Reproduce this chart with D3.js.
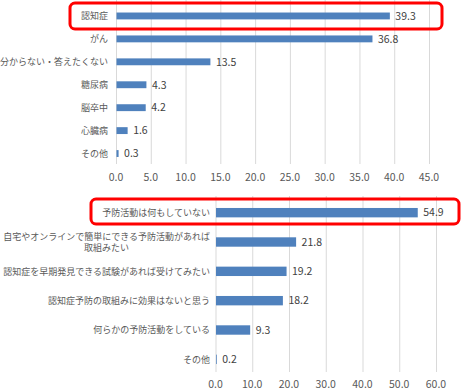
<!DOCTYPE html>
<html>
<head>
<meta charset="utf-8">
<script src="https://cdn.jsdelivr.net/npm/d3@7/dist/d3.min.js"></script>
<style>
  body { margin: 0; background: #fff; }
  svg { display: block; }
  text { font-family: "Noto Sans CJK JP", "Noto Sans", sans-serif; }
</style>
</head>
<body>
<svg id="chart" width="463" height="390"></svg>
<script>
// top chart: diseases
const topCategories = ['認知症', 'がん', '分からない・答えたくない', '糖尿病', '脳卒中', '心臓病', 'その他'];
const topValues = [39.3, 36.8, 13.5, 4.3, 4.2, 1.6, 0.3];
const topTicks = [0, 5, 10, 15, 20, 25, 30, 35, 40, 45];

// bottom chart: prevention
const bottomCategories = [
    ['予防活動は何もしていない'],
    ['自宅やオンラインで簡単にできる予防活動があれば', '取組みたい'],
    ['認知症を早期発見できる試験があれば受けてみたい'],
    ['認知症予防の取組みに効果はないと思う'],
    ['何らかの予防活動をしている'],
    ['その他']
];
const bottomValues = [54.9, 21.8, 19.2, 18.2, 9.3, 0.2];
const bottomTicks = [0, 10, 20, 30, 40, 50, 60];

const svg = d3.select('#chart');
const barColor = '#4f81bd';
const gridColor = '#d9d9d9';

function drawBars(opts) {
    const g = svg.append('g');

    const x = d3.scaleLinear()
        .domain([0, opts.max])
        .range([opts.left, opts.right]);

    const y = d3.scaleBand()
        .domain(d3.range(opts.values.length))
        .range([opts.top, opts.bottom])
        .paddingInner(opts.padding)
        .paddingOuter(opts.padding / 2);

    // gridlines
    g.selectAll('.grid')
        .data(opts.ticks)
        .join('line')
        .attr('x1', d => x(d) + 0.5)
        .attr('x2', d => x(d) + 0.5)
        .attr('y1', opts.gridTop)
        .attr('y2', opts.gridBottom)
        .attr('stroke', gridColor)
        .attr('stroke-width', 1);

    // tick labels
    g.selectAll('.tick')
        .data(opts.ticks)
        .join('text')
        .attr('x', d => x(d))
        .attr('y', opts.tickY)
        .attr('text-anchor', 'middle')
        .attr('font-size', 10.5)
        .attr('fill', '#595959')
        .text(d => d.toFixed(1));

    // bars
    g.selectAll('.bar')
        .data(opts.values)
        .join('rect')
        .attr('x', x(0) + 0.5)
        .attr('y', (d, i) => y(i))
        .attr('width', d => x(d) - x(0))
        .attr('height', y.bandwidth())
        .attr('fill', barColor);

    // value labels
    g.selectAll('.val')
        .data(opts.values)
        .join('text')
        .attr('x', d => x(d) + 6)
        .attr('y', (d, i) => y(i) + y.bandwidth() / 2)
        .attr('dy', '0.36em')
        .attr('font-size', 10.5)
        .attr('fill', '#404040')
        .text(d => d.toFixed(1));

    // category labels
    opts.categories.forEach((lines, i) => {
        const cy = y(i) + y.bandwidth() / 2;
        const lh = 10.7;
        const t = g.append('text')
            .attr('x', opts.labelX)
            .attr('y', cy - (lines.length - 1) * lh / 2)
            .attr('dy', '0.36em')
            .attr('text-anchor', 'end')
            .attr('font-size', 9)
            .attr('fill', '#595959');
        if (lines.length == 1) {
            t.text(lines[0]);
        } else {
            // second line is centred under the first one
            t.text(lines[0]);
            const w = t.node().getComputedTextLength();
            g.append('text')
                .attr('x', opts.labelX - w / 2)
                .attr('y', cy + lh / 2)
                .attr('dy', '0.36em')
                .attr('text-anchor', 'middle')
                .attr('font-size', 9)
                .attr('fill', '#595959')
                .text(lines[1]);
        }
    });

    // red highlight box round the first row
    const b = opts.box;
    svg.append('rect')
        .attr('x', b[0])
        .attr('y', b[1])
        .attr('width', b[2] - b[0])
        .attr('height', b[3] - b[1])
        .attr('rx', 5)
        .attr('fill', 'none')
        .attr('stroke', '#ff0000')
        .attr('stroke-width', 3);
}

drawBars({
    categories: topCategories.map(d => [d]),
    values: topValues,
    ticks: topTicks,
    max: 45,
    left: 116,
    right: 429,
    top: 4.5,
    bottom: 165,
    padding: 0.7,
    gridTop: 0,
    gridBottom: 164,
    tickY: 181,
    labelX: 108,
    box: [70, 3, 442, 29]
});

drawBars({
    categories: bottomCategories,
    values: bottomValues,
    ticks: bottomTicks,
    max: 60,
    left: 215.5,
    right: 436,
    top: 198,
    bottom: 374,
    padding: 0.68,
    gridTop: 196,
    gridBottom: 372,
    tickY: 387.5,
    labelX: 210,
    box: [91, 199, 459, 224]
});
</script>
</body>
</html>
